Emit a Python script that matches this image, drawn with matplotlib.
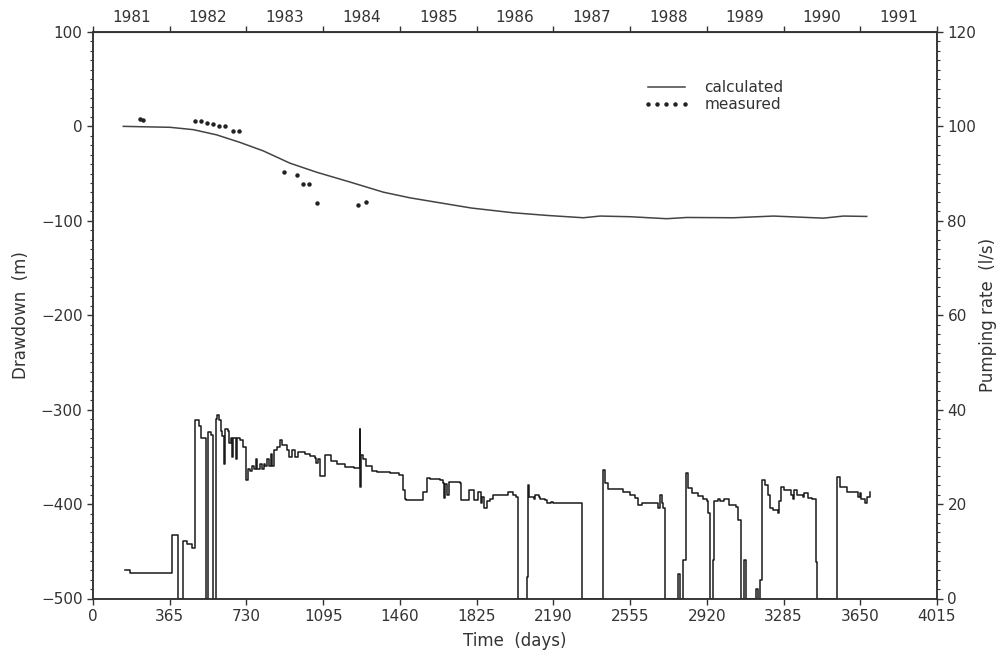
import matplotlib.pyplot as plt
from matplotlib.ticker import MultipleLocator, FixedLocator, NullFormatter

# simulated drawdown (m) vs time (days)
calc_day = [144, 250, 366, 477, 588, 699, 810, 937, 1064, 1223, 1381, 1508, 1651, 1800,
            1998, 2158, 2333, 2412, 2555, 2729, 2825, 3047, 3237, 3475, 3570, 3681]
calc_dd = [0, -0.5, -1, -3.5, -9, -17, -26, -39, -48.6, -59, -69.7, -75.7, -81, -86.5,
           -91.5, -94.3, -96.8, -95, -95.7, -97.8, -96.5, -96.8, -95, -97.2, -95, -95.4]

# observed drawdown
meas_day = [224, 236, 485, 512, 541, 572, 601, 628, 664, 696, 909, 969, 1001, 1028, 1064, 1262, 1299]
meas_dd = [7.5, 6.3, 6, 6, 3.6, 2.2, 0.7, 0.7, -4.9, -4.9, -47.9, -51.4, -60.6, -60.9, -81, -83.5, -79.9]

# pumping rate (l/s), stepwise
pump_day = [152, 176, 374, 406, 430, 445, 470, 487, 506, 512, 538, 545, 560, 572,
            585, 592, 600, 608, 614, 625, 630, 640, 648, 655, 662, 668, 680, 686,
            700, 712, 728, 735, 745, 755, 765, 775, 782, 795, 805, 812, 820, 826,
            835, 845, 852, 862, 875, 890, 900, 922, 932, 945, 960, 975,
            1000, 1008, 1030, 1055, 1062, 1072, 1080, 1104, 1130, 1160, 1200, 1240,
            1268, 1269, 1271, 1273, 1285, 1300, 1325, 1350, 1413, 1455, 1477, 1483,
            1491, 1572, 1588, 1604, 1650, 1665, 1670, 1676, 1685, 1695, 1745, 1752,
            1790, 1808, 1812, 1830, 1845, 1852, 1860, 1875, 1890, 1905, 1960, 1975,
            2000, 2012, 2023, 2063, 2068, 2073, 2100, 2105, 2120, 2128, 2150, 2160,
            2180, 2190, 2325, 2428, 2434, 2450, 2520, 2555, 2580, 2595, 2610, 2680,
            2688, 2695, 2706, 2712, 2721, 2785, 2793, 2808, 2820, 2830, 2850, 2880,
            2904, 2920, 2927, 2935, 2948, 2954, 2975, 2985, 3000, 3015, 3025, 3060,
            3070, 3081, 3099, 3105, 3152, 3162, 3173, 3181, 3197, 3213, 3221, 3237,
            3258, 3264, 3271, 3285, 3320, 3328, 3336, 3350, 3376, 3384, 3400, 3420,
            3440, 3443, 3537, 3553, 3585, 3640, 3648, 3652, 3672, 3680, 3696]
pump_rate = [6.0, 5.5, 13.4, 0, 12.2, 11.5, 10.8, 37.8, 36.5, 33.9, 0, 35.3, 34.6, 0,
             38.0, 38.8, 37.8, 35.5, 34.5, 28.5, 36.0, 35.5, 33.0, 34.0, 30.0, 34.0, 29.5, 34.0,
             33.5, 32.0, 25.0, 27.5, 27.0, 28.0, 27.5, 29.5, 27.5, 28.5, 27.5, 28.5, 28.0, 29.5,
             28.0, 30.5, 28.0, 31.5, 32.0, 33.5, 32.5, 31.5, 30.0, 31.5, 30.0, 31.0,
             31.0, 30.5, 30.2, 29.8, 28.8, 29.5, 25.9, 30.4, 29.2, 28.4, 27.9, 27.6,
             28.0, 36.0, 23.7, 30.4, 29.5, 28.0, 27.0, 26.7, 26.5, 26.2, 22.9, 21.1,
             20.9, 22.6, 25.5, 25.4, 25.0, 24.4, 21.2, 24.3, 22.0, 24.7, 24.5, 20.9,
             23.0, 23.0, 20.9, 22.5, 20.2, 21.5, 19.1, 20.6, 21.0, 21.9, 21.9, 22.6,
             21.9, 21.5, 0, 4.5, 24.0, 21.6, 21.1, 22.0, 21.5, 21.0, 20.9, 20.2,
             20.5, 20.2, 0, 27.2, 24.4, 23.1, 22.6, 22.0, 21.2, 19.8, 20.2, 20.2,
             19.1, 22.0, 20.2, 19.1, 0, 5.2, 0, 8.1, 26.5, 23.3, 22.4, 21.8,
             21.0, 20.6, 18.1, 0, 8.1, 20.6, 21.0, 20.6, 21.0, 21.0, 19.8, 19.4,
             16.6, 0, 8.1, 0, 2.1, 0, 3.9, 25.1, 24.0, 22.0, 19.1, 18.8,
             18.1, 20.6, 23.7, 23.0, 22.0, 21.0, 22.9, 22.0, 21.6, 22.4, 21.3, 21.0,
             7.8, 0, 25.8, 23.7, 22.6, 21.6, 22.4, 21.0, 20.3, 21.6, 22.6]

day_ticks = list(range(0, 4016, 365))
years = [str(y) for y in range(1981, 1992)]
year_pos = [182.5 + 365 * i for i in range(len(years))]

plt.rcParams['font.family'] = 'DejaVu Sans'
txt = '#333333'

fig, ax = plt.subplots(figsize=(9.97, 6.65), dpi=100)
fig.subplots_adjust(left=0.0933, right=0.9398, top=0.952, bottom=0.1)

ax.plot(calc_day, calc_dd, color='#444444', linewidth=1.1, label='calculated')
ax.plot(meas_day, meas_dd, linestyle='none', marker='o', markersize=2.2,
        color='#222222', label='measured')

ax2 = ax.twinx()
ax2.step(pump_day, pump_rate, where='post', color='#1a1a1a', linewidth=1.1)

ax.set_xlim(0, 4015)
ax.set_ylim(-500, 100)
ax2.set_ylim(0, 120)

ax.set_xticks(day_ticks)
ax.yaxis.set_major_locator(MultipleLocator(100))
ax.yaxis.set_minor_locator(MultipleLocator(10))
ax2.yaxis.set_major_locator(MultipleLocator(20))
ax2.yaxis.set_minor_locator(MultipleLocator(2))

for a in (ax, ax2):
    a.tick_params(which='major', length=4, width=1, colors='#333333', labelcolor=txt,
                  labelsize=11, direction='out')
    a.tick_params(which='minor', length=2.5, width=0.8, colors='#333333', direction='out')
    for s in a.spines.values():
        s.set_color('#333333')
        s.set_linewidth(1.1)

# calendar years along the top
top = ax.secondary_xaxis('top')
top.xaxis.set_major_locator(FixedLocator(year_pos))
top.set_xticklabels(years)
top.xaxis.set_minor_locator(FixedLocator(day_ticks))
top.xaxis.set_minor_formatter(NullFormatter())
top.tick_params(which='major', length=0, labelsize=11, labelcolor=txt, pad=5)
top.tick_params(which='minor', length=4, width=1, colors='#333333', direction='out')
top.spines['top'].set_color('#333333')

ax.set_xlabel('Time  (days)', fontsize=12, color=txt, labelpad=6)
ax.set_ylabel('Drawdown  (m)', fontsize=12, color=txt, labelpad=8)
ax2.set_ylabel('Pumping rate  (l/s)', fontsize=12, color=txt, labelpad=2)

ax.legend(loc='upper left', bbox_to_anchor=(0.652, 0.915), frameon=False,
          handlelength=3.0, handletextpad=1.0, labelspacing=0.15, numpoints=5,
          borderaxespad=0, borderpad=0, fontsize=11, labelcolor=txt)

fig.savefig('out.png', dpi=100)
